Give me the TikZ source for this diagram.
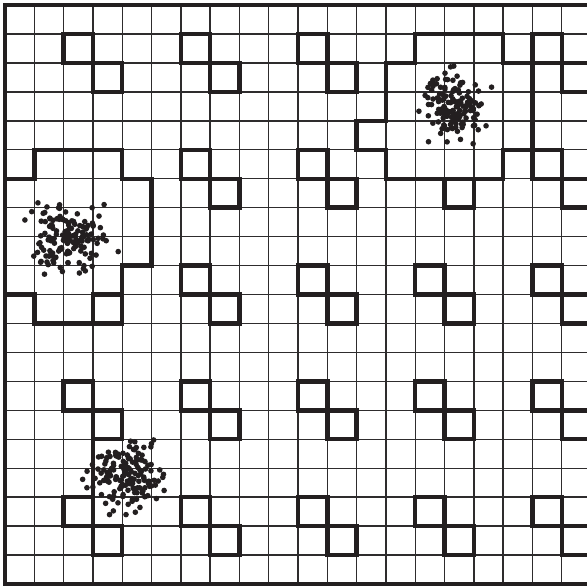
\documentclass[tikz,border=0pt]{standalone}
\usepackage{xcolor}
\definecolor{Ink}{HTML}{231F20}
\definecolor{GridInk}{HTML}{2E2C2D}

\tikzset{
  gridthin/.style={GridInk,line width=0.8pt},
  cellbold/.style={Ink,line width=2.5pt,line join=miter},
  frame/.style={Ink,line width=1.9pt},
  dot/.style={fill=Ink},
}

% scattered points round a centre (cx,cy), spread (sx,sy), count n
\newcommand{\dotcloud}[5]{%
  \foreach \k in {1,...,#5}{%
    \pgfmathsetmacro\px{#1+#3*(rand+rand+rand)}%
    \pgfmathsetmacro\py{#2+#4*(rand+rand+rand)}%
    \fill[dot] (\px,\py) circle (1.6pt);
  }}

\begin{document}
\begin{tikzpicture}[x=0.586cm,y=-0.579cm]
\useasboundingbox (-0.171,-0.173) rectangle (19.863,20.07);
\clip (-0.171,-0.173) rectangle (19.863,20.07);
\fill[white] (-0.171,-0.173) rectangle (19.863,20.07);
% cells
\foreach \i in {1,...,19}{
  \draw[gridthin] (\i,0) -- (\i,20);
  \draw[gridthin] (0,\i) -- (20,\i);
}
% points
\pgfmathsetseed{4127}
\dotcloud{15.36}{3.45}{0.50}{0.62}{140}
\dotcloud{2.22}{8.02}{0.62}{0.58}{150}
\dotcloud{4.15}{16.30}{0.60}{0.58}{150}
% pairs of marked cells
\foreach \c/\r in {2/1,3/2,6/1,7/2,10/1,11/2,18/1,19/2,
                   6/5,7/6,10/5,11/6,15/6,18/5,19/6,
                   3/10,6/9,7/10,10/9,11/10,14/9,15/10,18/9,19/10,
                   2/13,3/14,6/13,7/14,10/13,11/14,14/13,15/14,18/13,19/14,
                   2/17,3/18,6/17,7/18,10/17,11/18,14/17,15/18,18/17,19/18}
  \draw[cellbold] (\c,\r) rectangle ++(1,1);
% outlines of the dense regions
\draw[cellbold] (14,1) -- (17,1) -- (17,2) -- (18,2) -- (18,5) -- (17,5) -- (17,6)
  -- (13,6) -- (13,5) -- (12,5) -- (12,4) -- (13,4) -- (13,2) -- (14,2) -- cycle;
\draw[cellbold] (1,5) -- (4,5) -- (4,6) -- (5,6) -- (5,9) -- (4,9) -- (4,10)
  -- (3,10) -- (3,11) -- (1,11) -- (1,10) -- (0,10) -- (0,6) -- (1,6) -- cycle;
\draw[cellbold] (3,15) -- (3,17);
% border
\draw[frame] (0,0) rectangle (20,20);
\end{tikzpicture}
\end{document}
